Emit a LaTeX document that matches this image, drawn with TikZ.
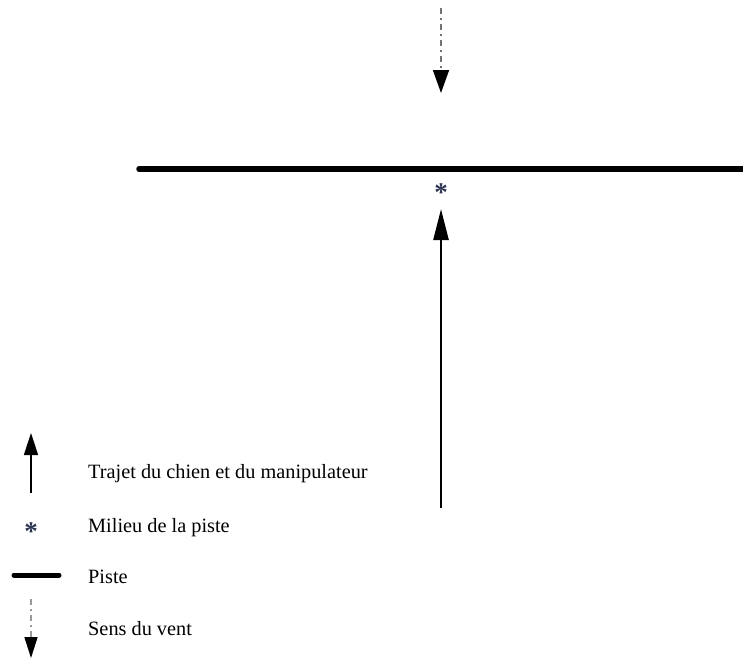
\documentclass[tikz,border=0pt]{standalone}
\usepackage{fontspec}
\setmainfont{Liberation Serif}
\usetikzlibrary{arrows.meta}
\definecolor{astcol}{HTML}{2B3450}
\tikzset{
  lbl/.style={anchor=base west, inner sep=0pt, font=\fontsize{20.3}{24}\selectfont},
  ast/.style={anchor=base, inner sep=0pt, text=astcol, font=\bfseries\fontsize{27}{30}\selectfont},
  pistestyle/.style={line width=5.5pt, line cap=round},
  trajet/.style={line width=2.6pt, -{Triangle[length=31pt,width=15pt]}},
  trajetleg/.style={line width=1.6pt, -{Triangle[length=22pt,width=14pt]}},
  vent/.style={line width=1.6pt, black!55, dash pattern=on 6pt off 4pt on 2pt off 4pt,
    -{Triangle[length=23pt,width=16pt,color=black]}},
  ventleg/.style={line width=1.6pt, black!40, dash pattern=on 6pt off 4pt on 2pt off 4pt,
    -{Triangle[length=21pt,width=13pt,color=black]}}
}
\begin{document}
\begin{tikzpicture}[x=1pt,y=-1pt]
\useasboundingbox (0,0) rectangle (743,659);
% wind arrow
\coordinate (v0) at (441,8);
\coordinate (v1) at (441,93);
\draw[vent] (v0) -- (v1);
% piste
\coordinate (p0) at (139,169);
\coordinate (p1) at (746,169);
\draw[pistestyle] (p0) -- (p1);
% middle
\node[ast] (mid) at (441,201) {*};
% trajet
\coordinate (t0) at (441,508);
\coordinate (t1) at (441,209);
\draw[trajet] (t0) -- (t1);
% legend
\coordinate (lt0) at (31,493);
\coordinate (lt1) at (31,433);
\draw[trajetleg] (lt0) -- (lt1);
\node[lbl] (ltxt) at (88,478) {Trajet du chien et du manipulateur};
\node[ast] (lmid) at (31,540) {*};
\node[lbl] (lmtxt) at (88,532) {Milieu de la piste};
\coordinate (lp0) at (14,575);
\coordinate (lp1) at (59,575);
\draw[pistestyle, line width=5pt] (lp0) -- (lp1);
\node[lbl] (lptxt) at (88,583) {Piste};
\coordinate (lv0) at (31,599);
\coordinate (lv1) at (31,658);
\draw[ventleg] (lv0) -- (lv1);
\node[lbl] (lvtxt) at (88,635) {Sens du vent};
\end{tikzpicture}
\end{document}
